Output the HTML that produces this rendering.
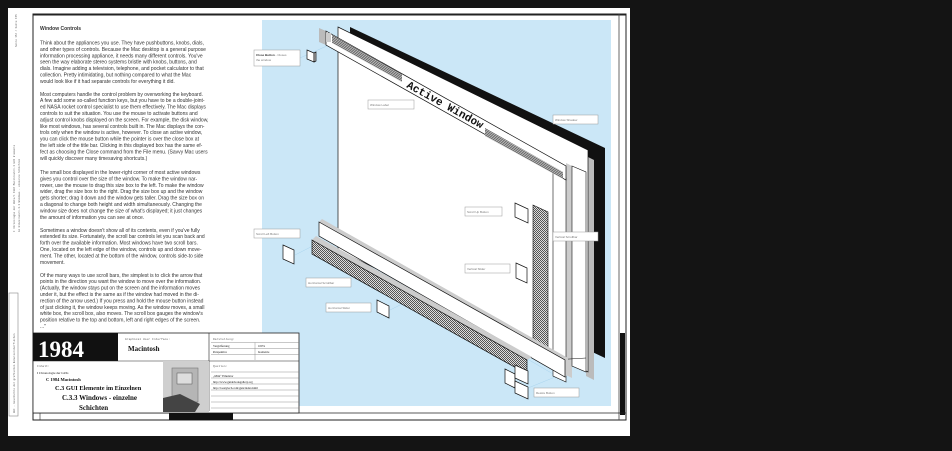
<!DOCTYPE html>
<html><head><meta charset="utf-8"><style>
html,body{margin:0;padding:0;background:#141414;}
svg{display:block}
.t{font-family:"Liberation Sans",sans-serif;font-size:5px;fill:#333}
.m{font-family:"Liberation Mono",monospace;fill:#666}
.s{font-family:"Liberation Serif",serif;fill:#111}
.lb{font-family:"Liberation Sans",sans-serif;font-size:3px;fill:#777}
</style></head><body>
<svg width="952" height="451" viewBox="0 0 952 451" xmlns="http://www.w3.org/2000/svg">
<defs>
<pattern id="dots" width="2" height="2" patternUnits="userSpaceOnUse"><rect width="2" height="2" fill="#ddd"/><rect width="1" height="1" fill="#555"/><rect x="1" y="1" width="1" height="1" fill="#555"/></pattern>
<pattern id="str" width="2" height="1.4" patternUnits="userSpaceOnUse" patternTransform="rotate(29)"><rect width="2" height="1.4" fill="#eee"/><rect width="2" height="0.7" fill="#333"/></pattern>
</defs>
<rect width="952" height="451" fill="#141414"/>
<rect x="8" y="8" width="622" height="428" fill="#fff"/>
<rect x="33" y="14" width="593" height="406" fill="none" stroke="#222" stroke-width="1"/>
<line x1="33" y1="14.5" x2="626" y2="14.5" stroke="#222" stroke-width="2"/>
<line x1="619" y1="14" x2="619" y2="420" stroke="#444" stroke-width="0.8"/>
<rect x="620" y="333" width="5" height="82" fill="#111"/>
<line x1="33" y1="413" x2="626" y2="413" stroke="#222" stroke-width="0.8"/>
<g class="m" font-size="2.6">
<text transform="translate(17,47) rotate(-90)">Seite 154 / Seite 155</text>
<text transform="translate(15,232) rotate(-90)">I Chronologie der GUIs/C 1984 Macintosh/C.3 GUI Elemente</text>
<text transform="translate(20,232) rotate(-90)">im Einzelnen/C.3.3 Windows - einzelne Schichten</text>
<rect x="9" y="293" width="9" height="123" fill="none" stroke="#888" stroke-width="0.6"/>
<text transform="translate(15,413) rotate(-90)">GUI - Geschichte der grafischen Benutzeroberflächen</text>
</g>
<text class="t" x="40" y="30" font-weight="bold">Window Controls</text>
<g class="t">
<text x="40" y="44.5">Think about the appliances you use. They have pushbuttons, knobs, dials,</text>
<text x="40" y="50.9">and other types of controls. Because the Mac desktop is a general purpose</text>
<text x="40" y="57.3">information processing appliance, it needs many different controls. You've</text>
<text x="40" y="63.7">seen the way elaborate stereo systems bristle with knobs, buttons, and</text>
<text x="40" y="70.1">dials. Imagine adding a television, telephone, and pocket calculator to that</text>
<text x="40" y="76.5">collection. Pretty intimidating, but nothing compared to what the Mac</text>
<text x="40" y="82.9">would look like if it had separate controls for everything it did.</text>
<text x="40" y="95.8">Most computers handle the control problem by overworking the keyboard.</text>
<text x="40" y="102.2">A few add some so-called function keys, but you have to be a double-joint-</text>
<text x="40" y="108.6">ed NASA rocket control specialist to use them effectively. The Mac displays</text>
<text x="40" y="115">controls to suit the situation. You use the mouse to activate buttons and</text>
<text x="40" y="121.4">adjust control knobs displayed on the screen. For example, the disk window,</text>
<text x="40" y="127.8">like most windows, has several controls built in. The Mac displays the con-</text>
<text x="40" y="134.2">trols only when the window is active, however. To close an active window,</text>
<text x="40" y="140.6">you can click the mouse button while the pointer is over the close box at</text>
<text x="40" y="147">the left side of the title bar. Clicking in this displayed box has the same ef-</text>
<text x="40" y="153.4">fect as choosing the Close command from the File menu. (Savvy Mac users</text>
<text x="40" y="159.8">will quickly discover many timesaving shortcuts.)</text>
<text x="40" y="174">The small box displayed in the lower-right corner of most active windows</text>
<text x="40" y="180.4">gives you control over the size of the window. To make the window nar-</text>
<text x="40" y="186.8">rower, use the mouse to drag this size box to the left. To make the window</text>
<text x="40" y="193.2">wider, drag the size box to the right. Drag the size box up and the window</text>
<text x="40" y="199.6">gets shorter; drag it down and the window gets taller. Drag the size box on</text>
<text x="40" y="206">a diagonal to change both height and width simultaneously. Changing the</text>
<text x="40" y="212.4">window size does not change the size of what's displayed; it just changes</text>
<text x="40" y="218.8">the amount of information you can see at once.</text>
<text x="40" y="231.8">Sometimes a window doesn't show all of its contents, even if you've fully</text>
<text x="40" y="238.2">extended its size. Fortunately, the scroll bar controls let you scan back and</text>
<text x="40" y="244.6">forth over the available information. Most windows have two scroll bars.</text>
<text x="40" y="251">One, located on the left edge of the window, controls up and down move-</text>
<text x="40" y="257.4">ment. The other, located at the bottom of the window, controls side-to side</text>
<text x="40" y="263.8">movement.</text>
<text x="40" y="276.8">Of the many ways to use scroll bars, the simplest is to click the arrow that</text>
<text x="40" y="283.2">points in the direction you want the window to move over the information.</text>
<text x="40" y="289.6">(Actually, the window stays put on the screen and the information moves</text>
<text x="40" y="296">under it, but the effect is the same as if the window had moved in the di-</text>
<text x="40" y="302.4">rection of the arrow used.) If you press and hold the mouse button instead</text>
<text x="40" y="308.8">of just clicking it, the window keeps moving. As the window moves, a small</text>
<text x="40" y="315.2">white box, the scroll box, also moves. The scroll box gauges the window's</text>
<text x="40" y="321.6">position relative to the top and bottom, left and right edges of the screen.</text>
<text x="40" y="328">..."</text>
</g>
<rect x="262" y="20" width="349" height="386" fill="#cbe7f7"/>
<g stroke="#a9d4ee" stroke-width="0.5" fill="none">
<line x1="300" y1="58" x2="340" y2="40"/><line x1="295" y1="255" x2="340" y2="232"/>
<line x1="390" y1="310" x2="440" y2="285"/><line x1="530" y1="275" x2="560" y2="260"/>
<line x1="340" y1="250" x2="560" y2="378"/><line x1="525" y1="220" x2="560" y2="200"/>
<line x1="528" y1="388" x2="560" y2="375"/>
</g>
<polygon points="350,27 605,148 605,358 350,237" fill="#111"/>
<polygon points="586,156 594,160 594,380 586,376" fill="#bbb"/>
<polygon points="338,27 588,150 588,372 338,250" fill="#fff" stroke="#111" stroke-width="0.7"/>
<polygon points="566,163 572,166 572,378 566,375" fill="#ccc"/>
<polygon points="553,172 566,178 566,382 553,376" fill="#fff" stroke="#111" stroke-width="0.6"/>
<polygon points="572,166 586,172 586,372 572,366" fill="#fff" stroke="#111" stroke-width="0.6"/>
<line x1="553" y1="360" x2="586" y2="358" stroke="#111" stroke-width="0.5"/>
<polygon points="319,28 326,31 326,45 319,42" fill="#bbb"/>
<polygon points="326,31 566,166 566,180 326,45" fill="#fff" stroke="#111" stroke-width="0.7"/>
<polygon points="332,35 402,74 402,82 332,43" fill="url(#str)"/>
<polygon points="485,128 563,172 563,179 485,136" fill="url(#str)"/>
<rect x="326" y="33" width="5" height="9" fill="#ccc"/>
<text transform="translate(406,87) rotate(29)" font-family="Liberation Mono,monospace" font-weight="bold" font-size="11" fill="#111">Active Window</text>
<polygon points="533,205 548,212 548,362 533,356" fill="url(#dots)" stroke="#111" stroke-width="0.6"/>
<polygon points="322,219 568,358 568,374 565,377 319,236 319,222" fill="#ccc"/>
<polygon points="319,222 565,360 565,377 319,236" fill="#fff" stroke="#111" stroke-width="0.7"/>
<polygon points="312,240 316,236 532,357 527,360" fill="#ccc"/>
<polygon points="312,240 527,360 527,374 312,254" fill="url(#dots)" stroke="#111" stroke-width="0.7"/>
<g fill="#fff" stroke="#111" stroke-width="0.7">
<polygon points="307,50 314,53 314,62 307,59"/><polygon points="314,53 316,52 316,61 314,62" fill="#bbb"/>
<polygon points="515,203 528,209 528,223 515,217"/>
<polygon points="283,245 294,250 294,264 283,259"/>
<polygon points="516,263 527,268 527,283 516,278"/>
<polygon points="377,300 389,306 389,318 377,312"/>
<polygon points="505,369 515,374 515,388 505,383"/>
<polygon points="515,365 528,371 528,384 515,378"/>
<polygon points="515,381 528,387 528,399 515,393"/>
</g>
<g fill="#fff" stroke="#999" stroke-width="0.5">
<rect x="254" y="50" width="46" height="16"/>
<rect x="368" y="100" width="46" height="9"/>
<rect x="553" y="115" width="45" height="9"/>
<rect x="465" y="207" width="37" height="9"/>
<rect x="553" y="232" width="45" height="9"/>
<rect x="254" y="229" width="46" height="9"/>
<rect x="465" y="264" width="45" height="9"/>
<rect x="306" y="278" width="45" height="9"/>
<rect x="326" y="303" width="45" height="9"/>
<rect x="534" y="388" width="45" height="9"/>
</g>
<g class="lb">
<text x="256" y="56"><tspan font-weight="bold" fill="#333">Close Button</tspan> - Closes</text>
<text x="256" y="61">the window</text>
<text x="370" y="106">Window Label</text>
<text x="555" y="121">Window Shadow</text>
<text x="467" y="213">Scroll Up Button</text>
<text x="555" y="238">Vertical Scrollbar</text>
<text x="256" y="235">Scroll Left Button</text>
<text x="467" y="270">Vertical Slider</text>
<text x="308" y="284">Horizontal Scrollbar</text>
<text x="328" y="309">Horizontal Slider</text>
<text x="536" y="394">Resize Button</text>
</g>
<rect x="33" y="333" width="266" height="80" fill="#fff" stroke="#222" stroke-width="0.8"/>
<rect x="33" y="333" width="85" height="28" fill="#111"/>
<text x="38" y="357" class="s" font-size="23" font-weight="bold" style="fill:#fff">1984</text>
<line x1="33" y1="361" x2="299" y2="361" stroke="#222" stroke-width="0.6"/>
<line x1="209" y1="333" x2="209" y2="411" stroke="#222" stroke-width="0.6"/>
<rect x="163" y="361" width="46" height="51" fill="#cfcfcf"/>
<rect x="172" y="368" width="26" height="34" fill="#b5b5b5" stroke="#777" stroke-width="0.6"/>
<rect x="177" y="373" width="15" height="11" fill="#ddd" stroke="#555" stroke-width="0.5"/>
<polygon points="163,398 180,394 200,404 195,412 163,412" fill="#444"/>
<text x="125" y="340" class="m" font-size="3">Graphical User Interface:</text>
<text x="128" y="351" class="s" font-size="7" font-weight="bold">Macintosh</text>
<text x="213" y="340" class="m" font-size="3">Darstellung:</text>
<g stroke="#777" stroke-width="0.4">
<line x1="211" y1="342.5" x2="299" y2="342.5"/><line x1="211" y1="348.5" x2="299" y2="348.5"/><line x1="211" y1="354.5" x2="299" y2="354.5"/>
<line x1="255" y1="342.5" x2="255" y2="360"/>
<line x1="211" y1="372" x2="299" y2="372"/><line x1="211" y1="378" x2="299" y2="378"/><line x1="211" y1="384" x2="299" y2="384"/><line x1="211" y1="390" x2="299" y2="390"/><line x1="211" y1="396" x2="299" y2="396"/><line x1="211" y1="402" x2="299" y2="402"/><line x1="211" y1="408" x2="299" y2="408"/>
</g>
<g class="s" font-size="3">
<text x="213" y="347">Vergrößerung</text><text x="258" y="347">100%</text>
<text x="213" y="353">Perspektive</text><text x="258" y="353">Isometrie</text>
<text x="213" y="377">„Mini“ Emulator</text>
<text x="213" y="383">http://www.guidebookgallery.org</text>
<text x="213" y="389">http://toastytech.com/guis/index.html</text>
</g>
<text x="213" y="367" class="m" font-size="3">Quellen:</text>
<text x="37" y="367" class="m" font-size="3">Inhalt:</text>
<text x="37" y="374" class="s" font-size="3.3">I Chronologie der GUIs</text>
<text x="46" y="381" class="s" font-size="4.5" font-weight="bold">C 1984 Macintosh</text>
<text x="55" y="390" class="s" font-size="6.3" font-weight="bold">C.3  GUI Elemente im Einzelnen</text>
<text x="62" y="400" class="s" font-size="7" font-weight="bold">C.3.3  Windows - einzelne</text>
<text x="79" y="410" class="s" font-size="7" font-weight="bold">Schichten</text>
<rect x="169" y="413" width="64" height="7" fill="#111"/>
<line x1="40" y1="413" x2="40" y2="420" stroke="#222" stroke-width="0.6"/>
</svg>
</body></html>
